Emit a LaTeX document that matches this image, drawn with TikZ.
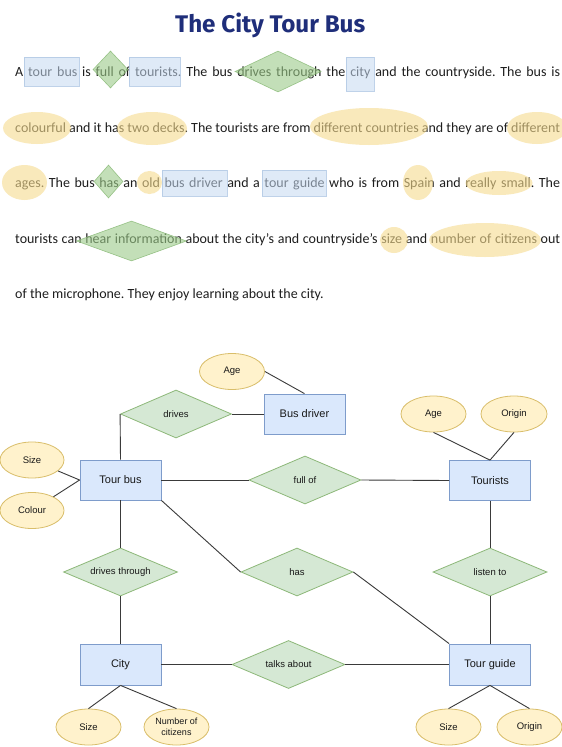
\documentclass[tikz,border=0pt]{standalone}
\usepackage{fontspec}
\usepackage{graphicx}
\setmainfont{Carlito}
\newfontfamily\diafont{Liberation Sans}
\newfontfamily\titlefont{Fira Sans}
\usetikzlibrary{shapes.geometric}
\frenchspacing
\definecolor{entfill}{HTML}{DAE8FC}
\definecolor{entline}{HTML}{7E9CCB}
\definecolor{relfill}{HTML}{D5E8D4}
\definecolor{relline}{HTML}{8DB879}
\definecolor{attfill}{HTML}{FFF2CC}
\definecolor{attline}{HTML}{D9BE6A}
\definecolor{titleblue}{HTML}{1F2E7A}
\definecolor{txt}{HTML}{1E1E1E}
\definecolor{hlblue}{HTML}{C6DAF2}
\definecolor{hlblueline}{HTML}{B0C7E4}
\definecolor{hlgreen}{HTML}{9CCB89}
\definecolor{hlgreenline}{HTML}{86B873}
\definecolor{hlyellow}{HTML}{F6DB8E}
\definecolor{conn}{HTML}{3A3A3A}
\tikzset{
  entity/.style={rectangle, draw=entline, fill=entfill, minimum width=81pt, minimum height=40pt,
    inner sep=0pt, line width=0.8pt, font=\diafont\fontsize{11}{13}\selectfont, text=black!90},
  relation/.style={diamond, draw=relline, fill=relfill, aspect=2.3, minimum width=112pt, minimum height=48pt,
    inner sep=0pt, line width=0.8pt, font=\diafont\fontsize{9.5}{11}\selectfont, text=black!90},
  attrib/.style={ellipse, draw=attline, fill=attfill, minimum width=65pt, minimum height=36pt,
    inner sep=0pt, line width=0.8pt, align=center, font=\diafont\fontsize{9.5}{11}\selectfont, text=black!90},
  link/.style={draw=conn, line width=0.9pt},
  textline/.style={anchor=base west, inner sep=0pt, font=\fontsize{14}{16}\selectfont, text=txt},
  hlrect/.style={rectangle, fill=hlblue, fill opacity=0.55, draw=hlblueline, draw opacity=0.8, line width=0.6pt, inner sep=0pt},
  hldia/.style={diamond, fill=hlgreen, fill opacity=0.6, draw=hlgreenline, draw opacity=0.8, line width=0.6pt, inner sep=0pt},
  hlell/.style={ellipse, fill=hlyellow, fill opacity=0.6, draw=none, inner sep=0pt},
}
\begin{document}
\begin{tikzpicture}[x=1pt,y=-1pt]
\useasboundingbox[fill=white] (0,0) rectangle (562,747);

% title
\node[anchor=base west, inner sep=0pt, text=titleblue] (title) at (175,32)
  {\resizebox{190pt}{19.5pt}{\titlefont\bfseries The City Tour Bus}};

% paragraph
\node[textline] (l1) at (15,76) {\makebox[545pt][s]{A tour bus is full of tourists. The bus drives through the city and the countryside. The bus is}};
\node[textline] (l2) at (15,132.5) {\makebox[545pt][s]{colourful and it has two decks. The tourists are from different countries and they are of different}};
\node[textline] (l3) at (15,187) {\makebox[545pt][s]{ages. The bus has an old bus driver and a tour guide who is from Spain and really small. The}};
\node[textline] (l4) at (15,243) {\makebox[545pt][s]{tourists can hear information about the city’s and countryside’s size and number of citizens out}};
\node[textline] (l5) at (15,298) {of the microphone. They enjoy learning about the city.};

% highlights line 1
\node[hlrect, minimum width=55pt, minimum height=29pt] (hA) at (51.5,71.5) {};
\node[hldia, minimum width=35pt, minimum height=37pt] (dA) at (110.5,69.5) {};
\node[hlrect, minimum width=51pt, minimum height=29pt] (hB) at (154.5,71.5) {};
\node[hldia, minimum width=86pt, minimum height=41pt] (dB) at (278,71.5) {};
\node[hlrect, minimum width=28pt, minimum height=34pt] (hC) at (360,74) {};
% line 2
\node[hlell, minimum width=68pt, minimum height=32pt] (eA) at (37,128) {};
\node[hlell, minimum width=70pt, minimum height=33pt] (eB) at (152,128.5) {};
\node[hlell, minimum width=118pt, minimum height=37pt] (eC) at (369,126.5) {};
\node[hlell, minimum width=60pt, minimum height=32pt] (eD) at (537,128) {};
% line 3
\node[hlell, minimum width=45pt, minimum height=35pt] (eE) at (24.5,182.5) {};
\node[hldia, minimum width=29pt, minimum height=33pt] (dC) at (108.5,181.5) {};
\node[hlell, minimum width=25pt, minimum height=23pt] (eF) at (149.5,182.5) {};
\node[hlrect, minimum width=65pt, minimum height=26pt] (hD) at (194.5,183) {};
\node[hlrect, minimum width=64pt, minimum height=26pt] (hE) at (294,183) {};
\node[hlell, minimum width=30pt, minimum height=35pt] (eG) at (418,182.5) {};
\node[hlell, minimum width=67pt, minimum height=24pt] (eH) at (499,183) {};
% line 4
\node[hldia, minimum width=110pt, minimum height=40pt] (dD) at (131.5,241) {};
\node[hlell, minimum width=28pt, minimum height=26pt] (eI) at (394,240) {};
\node[hlell, minimum width=112pt, minimum height=34pt] (eJ) at (485,240) {};

% ER diagram
\node[attrib] (ageBD) at (232,371.5) {Age};
\node[relation, minimum width=111pt] (drives) at (176,414) {drives};
\node[entity] (busdriver) at (304.5,414) {Bus driver};
\node[entity] (tourbus) at (120.5,480) {Tour bus};
\node[attrib, minimum width=64pt] (sizeTB) at (32,460) {Size};
\node[attrib, minimum width=64pt] (colour) at (32,510.5) {Colour};
\node[relation] (fullof) at (305,480) {full of};
\node[entity] (tourists) at (490,480.5) {Tourists};
\node[attrib] (ageT) at (433.5,414) {Age};
\node[attrib, minimum width=66pt] (originT) at (514,414) {Origin};
\node[relation, minimum width=114pt] (drivesthrough) at (120.5,572) {drives through};
\node[relation] (has) at (297,572) {has};
\node[relation, minimum width=114pt] (listento) at (490,572) {listen to};
\node[entity, minimum height=41pt] (city) at (120.5,664.5) {City};
\node[relation, minimum width=113pt] (talksabout) at (288.5,664.5) {talks about};
\node[entity, minimum height=41pt] (tourguide) at (490,664.5) {Tour guide};
\node[attrib] (sizeC) at (88.5,727) {Size};
\node[attrib, font=\diafont\fontsize{9}{10.5}\selectfont] (numcit) at (176.5,727) {Number of\\citizens};
\node[attrib] (sizeTG) at (448.5,727) {Size};
\node[attrib] (originTG) at (529.5,727) {Origin};

% connectors
\draw[link] (ageBD.east) -- (busdriver.north);
\draw[link] (drives.east) -- (busdriver.west);
\draw[link] (drives.west) -- (tourbus.north);
\draw[link] (sizeTB) -- (tourbus.west);
\draw[link] (colour) -- (tourbus.west);
\draw[link] (tourbus.east) -- (fullof.west);
\draw[link] (fullof.east) -- (tourists.west);
\draw[link] (ageT.south) -- (tourists.north);
\draw[link] (originT.south) -- (tourists.north);
\draw[link] (tourbus.south east) -- (has.west);
\draw[link] (has.east) -- (tourguide.north west);
\draw[link] (tourbus.south) -- (drivesthrough.north);
\draw[link] (drivesthrough.south) -- (city.north);
\draw[link] (tourists.south) -- (listento.north);
\draw[link] (listento.south) -- (tourguide.north);
\draw[link] (city.east) -- (talksabout.west);
\draw[link] (talksabout.east) -- (tourguide.west);
\draw[link] (city.south) -- (sizeC.north);
\draw[link] (city.south) -- (numcit.north);
\draw[link] (tourguide.south) -- (sizeTG.north);
\draw[link] (tourguide.south) -- (originTG.north);
\end{tikzpicture}
\end{document}
